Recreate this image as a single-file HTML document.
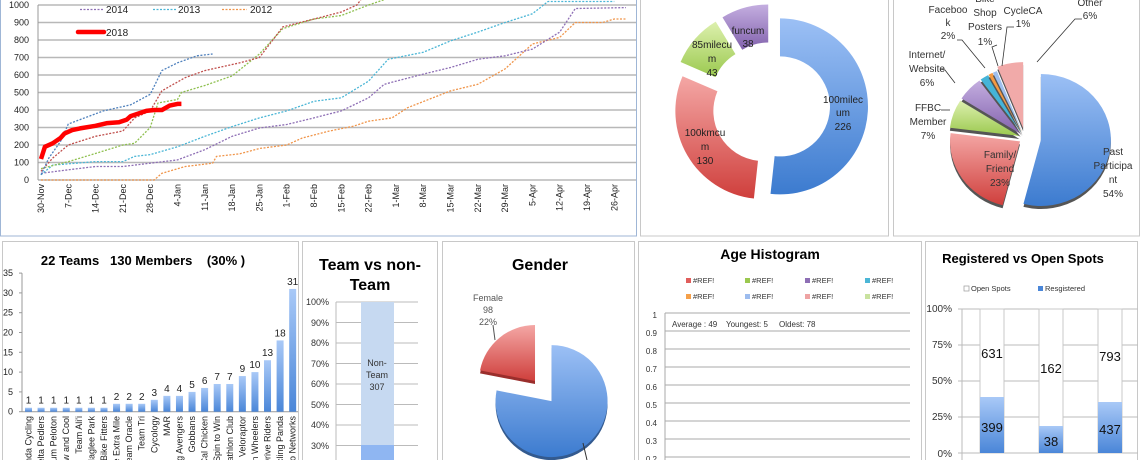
<!DOCTYPE html>
<html><head><meta charset="utf-8"><style>
html,body{margin:0;padding:0;background:#fff;}
svg{display:block;font-family:"Liberation Sans",sans-serif;}
.pre{white-space:pre;}
</style></head><body>
<svg id="s" width="1140" height="460" viewBox="0 0 1140 460" xmlns="http://www.w3.org/2000/svg">
<defs>
<linearGradient id="gb" x1="0" y1="0" x2="0" y2="1"><stop offset="0" stop-color="#9cc0f5"/><stop offset="1" stop-color="#3c7bcf"/></linearGradient>
<linearGradient id="gr" x1="0" y1="0" x2="0" y2="1"><stop offset="0" stop-color="#f4a7a5"/><stop offset="1" stop-color="#cf3f3c"/></linearGradient>
<linearGradient id="gg" x1="0" y1="0" x2="0" y2="1"><stop offset="0" stop-color="#ddf0ae"/><stop offset="1" stop-color="#9bc94f"/></linearGradient>
<linearGradient id="gp" x1="0" y1="0" x2="0" y2="1"><stop offset="0" stop-color="#c4aee0"/><stop offset="1" stop-color="#8262ad"/></linearGradient>
<linearGradient id="gbar" x1="0" y1="0" x2="0" y2="1"><stop offset="0" stop-color="#a9c9f7"/><stop offset="1" stop-color="#4a86d8"/></linearGradient>
</defs>
<rect x="0.5" y="-2" width="636" height="238" fill="none" stroke="#9fb6d6"/>
<rect x="640.5" y="-2" width="248" height="238" fill="none" stroke="#c8c8c8"/>
<rect x="893.5" y="-2" width="246" height="238" fill="none" stroke="#c8c8c8"/>
<rect x="2.5" y="241.5" width="296" height="230" fill="none" stroke="#c8c8c8"/>
<rect x="302.5" y="241.5" width="135" height="230" fill="none" stroke="#c8c8c8"/>
<rect x="442.5" y="241.5" width="192" height="230" fill="none" stroke="#c8c8c8"/>
<rect x="638.5" y="241.5" width="283" height="230" fill="none" stroke="#c8c8c8"/>
<rect x="925.5" y="241.5" width="212" height="230" fill="none" stroke="#c8c8c8"/>
<g id="line"></g>
<g id="pies"></g>
<g id="bars"></g>

<g font-size="9" fill="#333" text-anchor="end">
<text x="329" y="305">100%</text><text x="329" y="326">90%</text><text x="329" y="346">80%</text><text x="329" y="367">70%</text><text x="329" y="387">60%</text><text x="329" y="408">50%</text><text x="329" y="428">40%</text><text x="329" y="449">30%</text>
</g>
<g stroke="#bbb"><line x1="336" y1="302" x2="336" y2="460"/>
<line x1="336" y1="302" x2="418" y2="302"/><line x1="336" y1="322.5" x2="418" y2="322.5"/><line x1="336" y1="343" x2="418" y2="343"/><line x1="336" y1="363.5" x2="418" y2="363.5"/><line x1="336" y1="384" x2="418" y2="384"/><line x1="336" y1="404.5" x2="418" y2="404.5"/><line x1="336" y1="425" x2="418" y2="425"/><line x1="336" y1="445.5" x2="418" y2="445.5"/></g>
<rect x="361" y="302" width="33" height="143" fill="#c6d9f1"/>
<rect x="361" y="445" width="33" height="20" fill="#8fb6f2"/>
<g font-size="9" fill="#333" text-anchor="middle"><text x="377" y="366">Non-</text><text x="377" y="378">Team</text><text x="377" y="390">307</text></g>
<g font-size="16" font-weight="bold" text-anchor="middle" fill="#000"><text x="370" y="270">Team vs non-</text><text x="370" y="290">Team</text></g>

<text x="540" y="270" font-size="16" font-weight="bold" text-anchor="middle">Gender</text>
<g font-size="9" fill="#555" text-anchor="middle"><text x="488" y="301">Female</text><text x="488" y="313">98</text><text x="488" y="325">22%</text></g>
<line x1="493" y1="325" x2="495" y2="340" stroke="#555"/>
<line x1="583" y1="443" x2="587" y2="460" stroke="#333"/>

<text x="770" y="259" font-size="14" font-weight="bold" text-anchor="middle">Age Histogram</text>
<g font-size="7.5" fill="#333">
<rect x="686" y="278" width="5" height="5" fill="#e05d5b"/><text x="693" y="283">#REF!</text>
<rect x="745" y="278" width="5" height="5" fill="#9bc84f"/><text x="752" y="283">#REF!</text>
<rect x="805" y="278" width="5" height="5" fill="#8e6fb5"/><text x="812" y="283">#REF!</text>
<rect x="865" y="278" width="5" height="5" fill="#4bb6d6"/><text x="872" y="283">#REF!</text>
<rect x="686" y="294" width="5" height="5" fill="#f5a04a"/><text x="693" y="299">#REF!</text>
<rect x="745" y="294" width="5" height="5" fill="#9dbcee"/><text x="752" y="299">#REF!</text>
<rect x="805" y="294" width="5" height="5" fill="#eea3a3"/><text x="812" y="299">#REF!</text>
<rect x="865" y="294" width="5" height="5" fill="#c9e29f"/><text x="872" y="299">#REF!</text>
</g>
<g font-size="8" fill="#333" text-anchor="end">
<text x="657" y="318">1</text><text x="657" y="336">0.9</text><text x="657" y="354">0.8</text><text x="657" y="372">0.7</text><text x="657" y="390">0.6</text><text x="657" y="408">0.5</text><text x="657" y="426">0.4</text><text x="657" y="444">0.3</text><text x="657" y="462">0.2</text>
</g>
<g stroke="#aaa"><line x1="665" y1="313" x2="665" y2="460"/>
<line x1="665" y1="313" x2="910" y2="313"/><line x1="665" y1="331" x2="910" y2="331"/><line x1="665" y1="349" x2="910" y2="349"/><line x1="665" y1="367" x2="910" y2="367"/><line x1="665" y1="385" x2="910" y2="385"/><line x1="665" y1="403" x2="910" y2="403"/><line x1="665" y1="421" x2="910" y2="421"/><line x1="665" y1="439" x2="910" y2="439"/><line x1="665" y1="457" x2="910" y2="457"/></g>
<text class="pre" x="672" y="327" font-size="8" fill="#333">Average : 49    Youngest: 5     Oldest: 78</text>

<text x="1023" y="263" font-size="13" font-weight="bold" text-anchor="middle">Registered vs Open Spots</text>
<rect x="964" y="286" width="5" height="5" fill="#fff" stroke="#999" stroke-width="0.7"/><text x="971" y="291" font-size="7.5" fill="#333">Open Spots</text>
<rect x="1038" y="286" width="5" height="5" fill="#4a86d8"/><text x="1045" y="291" font-size="7.5" fill="#333">Resgistered</text>
<g font-size="10" fill="#333" text-anchor="end"><text x="952" y="312">100%</text><text x="952" y="348">75%</text><text x="952" y="384">50%</text><text x="952" y="420">25%</text><text x="952" y="457">0%</text></g>
<g stroke="#bbb"><line x1="962" y1="309" x2="962" y2="460"/>
<line x1="958" y1="309" x2="1138" y2="309"/><line x1="958" y1="345" x2="1138" y2="345"/><line x1="958" y1="381" x2="1138" y2="381"/><line x1="958" y1="417" x2="1138" y2="417"/><line x1="958" y1="453" x2="1138" y2="453"/></g>
<g stroke="#c8c8c8" fill="#fff">
<rect x="980" y="309" width="24" height="144"/><rect x="1039" y="309" width="24" height="144"/><rect x="1098" y="309" width="24" height="144"/></g>
<rect x="980" y="397" width="24" height="56" fill="url(#gbar)"/>
<rect x="1039" y="426" width="24" height="27" fill="url(#gbar)"/>
<rect x="1098" y="402" width="24" height="51" fill="url(#gbar)"/>
<g font-size="13" fill="#111" text-anchor="middle">
<text x="992" y="358">631</text><text x="992" y="432">399</text>
<text x="1051" y="373">162</text><text x="1051" y="446">38</text>
<text x="1110" y="361">793</text><text x="1110" y="434">437</text></g>

<g font-size="10" fill="#222" text-anchor="middle">
<text x="748" y="34">funcum</text><text x="748" y="47">38</text>
<text x="712" y="48">85milecu</text><text x="712" y="62">m</text><text x="712" y="76">43</text>
<text x="843" y="103">100milec</text><text x="843" y="116">um</text><text x="843" y="130">226</text>
<text x="705" y="136">100kmcu</text><text x="705" y="150">m</text><text x="705" y="164">130</text>
</g>
<g font-size="10" fill="#333" text-anchor="middle">
<text x="948" y="13">Faceboo</text><text x="948" y="26">k</text><text x="948" y="39">2%</text>
<text x="985" y="2">Bike</text><text x="985" y="16">Shop</text><text x="985" y="30">Posters</text><text x="985" y="45">1%</text>
<text x="1023" y="14">CycleCA</text><text x="1023" y="27">1%</text>
<text x="1090" y="6">Other</text><text x="1090" y="19">6%</text>
<text x="927" y="58">Internet/</text><text x="927" y="72">Website</text><text x="927" y="86">6%</text>
<text x="928" y="111">FFBC</text><text x="928" y="125">Member</text><text x="928" y="139">7%</text>
<text x="1000" y="158">Family/</text><text x="1000" y="172">Friend</text><text x="1000" y="186">23%</text>
<text x="1113" y="155">Past</text><text x="1113" y="169">Participa</text><text x="1113" y="183">nt</text><text x="1113" y="197">54%</text>
</g>
<g stroke="#333" fill="none" stroke-width="0.8">
<polyline points="957,40 962,40 985,68"/>
<polyline points="997,45 992,47 998,66"/>
<polyline points="1014,27 1007,27 1002,66"/>
<polyline points="1082,19 1075,19 1037,62"/>
<polyline points="940,69 945,70 955,83"/>
<polyline points="941,110 950,110"/>
</g>
</svg>
<script>
var NS="http://www.w3.org/2000/svg";
function el(p,t,a,txt){var e=document.createElementNS(NS,t);for(var k in a)e.setAttribute(k,a[k]);if(txt!==undefined)e.textContent=txt;p.appendChild(e);return e;}
var L=document.getElementById('line');
function X(d){return 41+3.9*d;} function Y(v){return 180-0.175*v;}
for(var v=0;v<=1000;v+=100){el(L,'line',{x1:38,x2:636,y1:Y(v),y2:Y(v),stroke:'#b8b8b8','stroke-width':1.6});
 el(L,'text',{x:29,y:Y(v)+3,'font-size':9,'text-anchor':'end',fill:'#222'},String(v));}
el(L,'line',{x1:38,x2:38,y1:Y(1000),y2:Y(0),stroke:'#999'});
var labs=["30-Nov","7-Dec","14-Dec","21-Dec","28-Dec","4-Jan","11-Jan","18-Jan","25-Jan","1-Feb","8-Feb","15-Feb","22-Feb","1-Mar","8-Mar","15-Mar","22-Mar","29-Mar","5-Apr","12-Apr","19-Apr","26-Apr"];
labs.forEach(function(s,i){var x=X(i*7)+3;el(L,'text',{x:x,y:184,'font-size':9,'text-anchor':'end',fill:'#222',transform:'rotate(-90 '+x+' 184)'},s);});
function ser(pts,col,w,dash){var d=pts.map(function(p,i){return (i?'L':'M')+X(p[0]).toFixed(1)+','+Y(Math.min(p[1],1030)).toFixed(1);}).join('');
 var a={d:d,fill:'none',stroke:col,'stroke-width':w,'stroke-linejoin':'round'};if(dash)a['stroke-dasharray']=dash;el(L,'path',a);}
var D='2,1.5';
ser([[0,0],[29,0],[31,38],[37,77],[44,96],[45,135],[51,150],[56,180],[63,200],[67,240],[74,280],[80,307],[84,336],[90,355],[94,413],[105,509],[112,547],[119,635],[126,777],[133,815],[137,900],[144,900],[147,920],[150,920]],'#f0954a',1.3,D);
ser([[0,38],[7,58],[14,77],[21,77],[28,96],[35,115],[42,173],[49,250],[56,297],[63,317],[70,355],[77,395],[84,470],[88,547],[98,605],[105,643],[112,690],[119,710],[126,748],[133,845],[137,980],[150,985]],'#8e6fb5',1.3,D);
ser([[0,30],[3,85],[14,105],[21,105],[24,135],[28,145],[35,190],[42,250],[49,305],[56,355],[63,395],[70,450],[77,470],[84,565],[89,690],[98,730],[105,795],[112,845],[119,900],[126,950],[130,1020],[147,1020]],'#4bb6d6',1.3,D);
ser([[0,65],[7,105],[13,145],[21,200],[24,210],[28,300],[30,440],[35,460],[36,500],[42,540],[49,595],[56,720],[62,865],[70,920],[77,940],[84,1000],[88,1040]],'#8fc050',1.3,D);
ser([[0,50],[3,125],[7,200],[14,250],[21,280],[24,355],[28,395],[31,510],[37,585],[42,625],[51,670],[56,700],[62,875],[70,920],[77,960],[81,1000],[82,1040]],'#c0504d',1.3,D);
ser([[0,30],[2,125],[5,220],[7,320],[10,345],[16,395],[23,430],[28,490],[31,625],[35,670],[40,710],[44,720]],'#4f81bd',1.3,D);
ser([[0,120],[1,190],[3,210],[5,240],[6,265],[8,285],[10,295],[14,310],[17,325],[20,330],[22,345],[23,365],[25,380],[27,395],[29,400],[31,400],[33,425],[35,435],[36,435]],'#ff0000',4.5);
el(L,'line',{x1:80,x2:104,y1:9.5,y2:9.5,stroke:'#8e6fb5','stroke-width':1.3,'stroke-dasharray':D});
el(L,'line',{x1:153,x2:176,y1:9.5,y2:9.5,stroke:'#4bb6d6','stroke-width':1.3,'stroke-dasharray':D});
el(L,'line',{x1:222,x2:247,y1:9.5,y2:9.5,stroke:'#f0954a','stroke-width':1.3,'stroke-dasharray':D});
el(L,'line',{x1:78,x2:104,y1:32,y2:32,stroke:'#ff0000','stroke-width':4.5,'stroke-linecap':'round'});
[['2014',106,13],['2013',178,13],['2012',250,13],['2018',106,36]].forEach(function(t){el(L,'text',{x:t[1],y:t[2],'font-size':10,fill:'#222'},t[0]);});

var P=document.getElementById('pies');
function pt(cx,cy,r,a){var t=a*Math.PI/180;return [cx+r*Math.sin(t),cy-r*Math.cos(t)];}
function wedge(cx,cy,r0,r,a0,a1,fill,ry){ry=ry||r;var sc=ry/r;var big=(a1-a0)>180?1:0;
 var p1=pt(cx,cy,r,a0),p2=pt(cx,cy,r,a1);var y=function(q){return cy+(q[1]-cy)*sc;};
 var d='M'+p1[0]+','+y(p1)+'A'+r+','+ry+' 0 '+big+' 1 '+p2[0]+','+y(p2);
 if(r0>0){var q2=pt(cx,cy,r0,a1),q1=pt(cx,cy,r0,a0);d+='L'+q2[0]+','+y(q2)+'A'+r0+','+(r0*sc)+' 0 '+big+' 0 '+q1[0]+','+y(q1)+'Z';}
 else d+='L'+cx+','+cy+'Z';
 el(P,'path',{d:d,fill:fill});}
function ex(cx,cy,a0,a1,o){var m=(a0+a1)/2;var q=pt(0,0,o,m);return [cx+q[0],cy+q[1]];}
var dc=[772,106],tot=437,a=0;
[[226,'url(#gb)',8],[130,'url(#gr)',10],[43,'url(#gg)',14],[38,'url(#gp)',14]].forEach(function(s){var a1=a+s[0]/tot*360;var c=ex(dc[0],dc[1],a,a1,s[2]);wedge(c[0],c[1],50,88,a,a1,s[1]);a=a1;});
var sp=[[54,'url(#gb)',16],[23,'url(#gr)',6],[7,'url(#gg)',6],[6,'url(#gp)',6],[2,'#45b4d8',6],[1,'#f49a43',6],[1,'#9fbfee',6],[6,'#f1aaa9',10]];a=0;
sp.forEach(function(s){var a1=a+s[0]*3.6;var c=ex(1025,138,a,a1,s[2]);
 wedge(c[0],c[1]+3,0,70,a,a1,'#555',66);wedge(c[0],c[1],0,70,a,a1,s[1],66);a=a1;});
var g1=281;var c=ex(549,398,0,g1,4);wedge(c[0],c[1]+3,0,56,0,g1,'#335a8f');wedge(c[0],c[1],0,56,0,g1,'url(#gb)');
c=ex(549,398,g1,360,22);wedge(c[0],c[1]+3,0,56,g1,360,'#9a2e2c');wedge(c[0],c[1],0,56,g1,360,'url(#gr)');

var B=document.getElementById('bars');
el(B,'text',{x:143,y:265,'font-size':13,'font-weight':'bold','text-anchor':'middle','class':'pre'},'22 Teams   130 Members    (30% )');
function BY(v){return 411.7-3.96*v;}
for(var v=0;v<=35;v+=5){el(B,'text',{x:13,y:BY(v)+3,'font-size':9,'text-anchor':'end',fill:'#222'},String(v));el(B,'line',{x1:19,x2:22,y1:BY(v),y2:BY(v),stroke:'#999'});}
el(B,'line',{x1:22,x2:22,y1:BY(35),y2:BY(0),stroke:'#999'});
el(B,'line',{x1:22,x2:298,y1:BY(0),y2:BY(0),stroke:'#999'});
var vals=[1,1,1,1,1,1,1,2,2,2,3,4,4,5,6,7,7,9,10,13,18,31];
var names=["Panda Cycling","Delta Pedlers","Velum Peloton","Slow and Cool","Team Ali'i","Naglee Park","Bike Fitters","The Extra Mile","Team Oracle","Team Tri","Cycology","MAR","Big Avengers","Gobbans","Cal Chicken","Spin to Win","Triathlon Club","Veloraptor","Win Wheelers","Drive Riders","Cycling Panda","Juno Networks"];
vals.forEach(function(v,i){var x=28.5+i*12.58;el(B,'rect',{x:x-3.5,y:BY(v),width:7,height:BY(0)-BY(v),fill:'url(#gbar)'});
 el(B,'text',{x:x,y:BY(v)-4,'font-size':10,'text-anchor':'middle',fill:'#222'},String(v));
 el(B,'text',{x:x+3,y:416,'font-size':9,'text-anchor':'end',fill:'#222',transform:'rotate(-90 '+(x+3)+' 416)'},names[i]);});
</script>
</body></html>
